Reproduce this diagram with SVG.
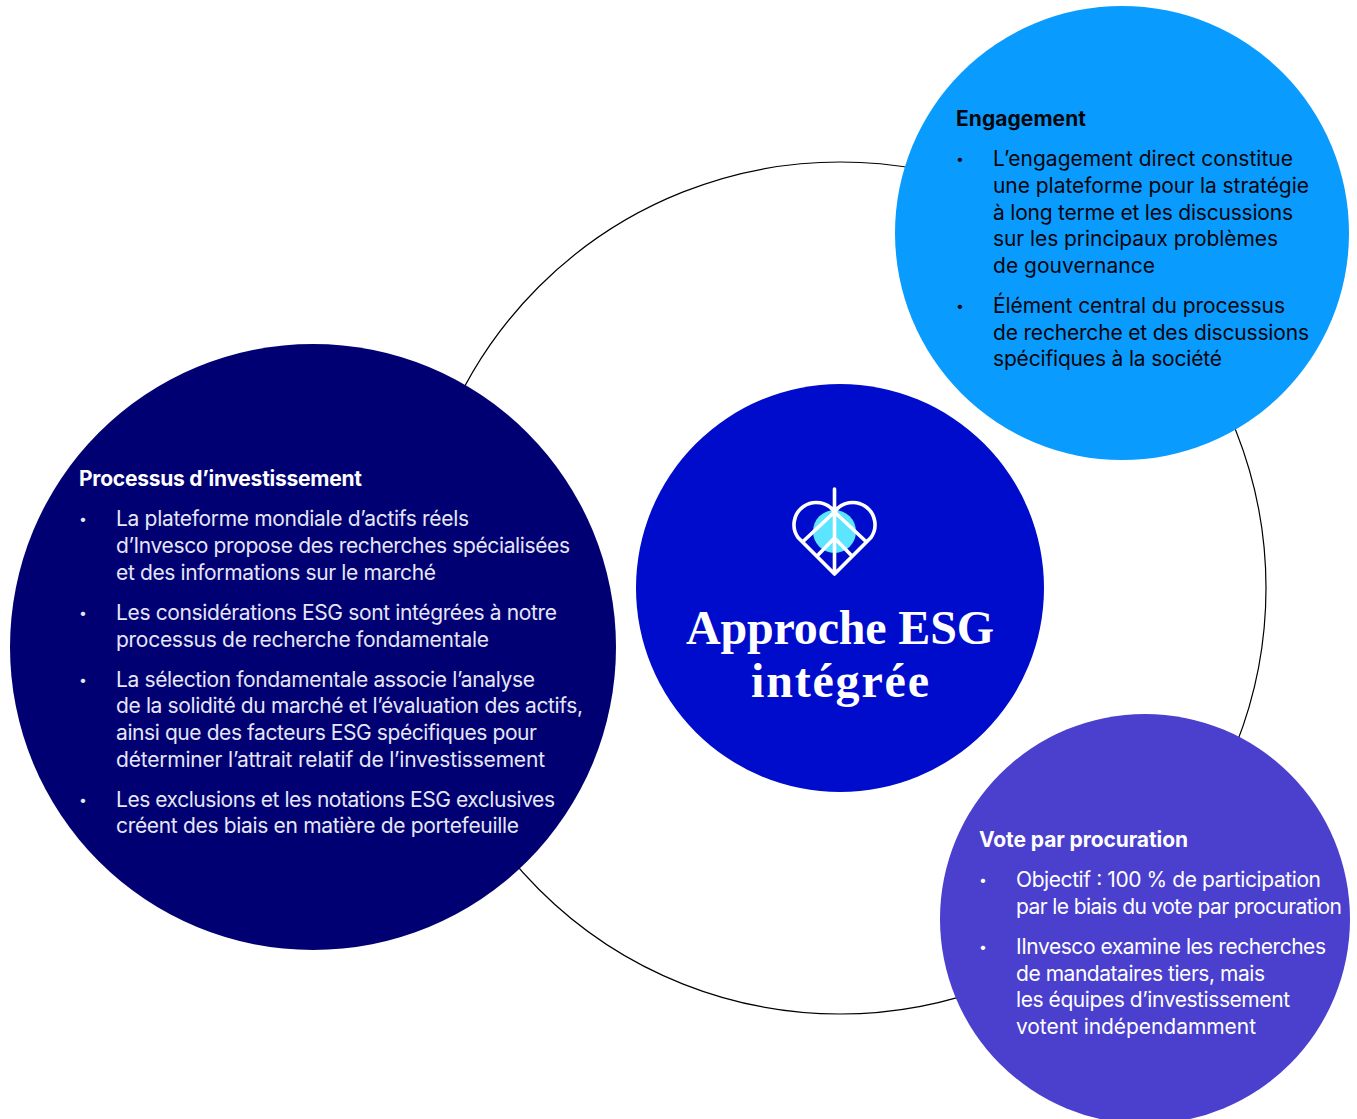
<svg xmlns="http://www.w3.org/2000/svg" width="1357" height="1119" viewBox="0 0 1357 1119">
<style>
text{font-family:Inter,"Liberation Sans",sans-serif;font-size:21px}
.h{font-weight:700;font-size:21px}
.b{font-size:14px}
.w{fill:#fff}.p{fill:#e6e6f6}.k{fill:#06060c}
.t{font-family:"Liberation Serif",serif;font-weight:700;font-size:48px;fill:#fff;text-anchor:middle}
.i{fill:none;stroke:#fff;stroke-width:3.6;stroke-linecap:round;stroke-linejoin:round}
</style>
<rect width="1357" height="1119" fill="#fff"/>
<g id="connectors"><circle cx="840" cy="588" r="426" fill="none" stroke="#000" stroke-width="1.2"/></g>
<g id="center">
<circle cx="840" cy="588" r="204" fill="#000ccc"/>
<circle cx="834.5" cy="531.5" r="21.5" fill="#5ce5ff"/>
<path class="i" d="M834.5 574L798 537.500A22 22 0 1 1 834.500 512A22 22 0 1 1 871 537.500ZM834.500 489V574M834.500 512L803 541.500M834.500 512L866 541.500M834.500 538L818 555M834.500 538L851 555"/>
<text class="t" x="840" y="644" textLength="308">Approche ESG</text>
<text class="t" x="840" y="697" textLength="178">intégrée</text>
</g>
<g id="processus">
<circle cx="313" cy="647" r="303" fill="#000072"/>
<text class="h w" x="79" y="486" textLength="283">Processus d’investissement</text>
<g class="p">
<text class="b" x="79" y="524">•</text>
<text x="116" y="526" textLength="353">La plateforme mondiale d’actifs réels</text>
<text x="116" y="553" textLength="454">d’Invesco propose des recherches spécialisées</text>
<text x="116" y="580" textLength="320">et des informations sur le marché</text>
<text class="b" x="79" y="618">•</text>
<text x="116" y="620" textLength="441">Les considérations ESG sont intégrées à notre</text>
<text x="116" y="647" textLength="373">processus de recherche fondamentale</text>
<text class="b" x="79" y="685">•</text>
<text x="116" y="687" textLength="419">La sélection fondamentale associe l’analyse</text>
<text x="116" y="713" textLength="467">de la solidité du marché et l’évaluation des actifs,</text>
<text x="116" y="740" textLength="421">ainsi que des facteurs ESG spécifiques pour</text>
<text x="116" y="767" textLength="429">déterminer l’attrait relatif de l’investissement</text>
<text class="b" x="79" y="805">•</text>
<text x="116" y="807" textLength="439">Les exclusions et les notations ESG exclusives</text>
<text x="116" y="833" textLength="403">créent des biais en matière de portefeuille</text>
</g></g>
<g id="engagement">
<circle cx="1122" cy="233" r="227" fill="#0a9bff"/>
<text class="h k" x="956" y="126" textLength="130">Engagement</text>
<g class="k">
<text class="b" x="956" y="164">•</text>
<text x="993" y="166" textLength="300">L’engagement direct constitue</text>
<text x="993" y="193" textLength="316">une plateforme pour la stratégie</text>
<text x="993" y="220" textLength="300">à long terme et les discussions</text>
<text x="993" y="246" textLength="285">sur les principaux problèmes</text>
<text x="993" y="273" textLength="162">de gouvernance</text>
<text class="b" x="956" y="311">•</text>
<text x="993" y="313" textLength="292">Élément central du processus</text>
<text x="993" y="340" textLength="316">de recherche et des discussions</text>
<text x="993" y="366" textLength="229">spécifiques à la société</text>
</g></g>
<g id="vote">
<circle cx="1145" cy="919" r="205" fill="#4b3fce"/>
<text class="h w" x="979" y="847" textLength="209">Vote par procuration</text>
<g class="w">
<text class="b" x="979" y="885">•</text>
<text x="1016" y="887" textLength="305">Objectif : 100 % de participation</text>
<text x="1016" y="914" textLength="326">par le biais du vote par procuration</text>
<text class="b" x="979" y="952">•</text>
<text x="1016" y="954" textLength="310">IInvesco examine les recherches</text>
<text x="1016" y="981" textLength="249">de mandataires tiers, mais</text>
<text x="1016" y="1007" textLength="274">les équipes d’investissement</text>
<text x="1016" y="1034" textLength="240">votent indépendamment</text>
</g></g>
</svg>
